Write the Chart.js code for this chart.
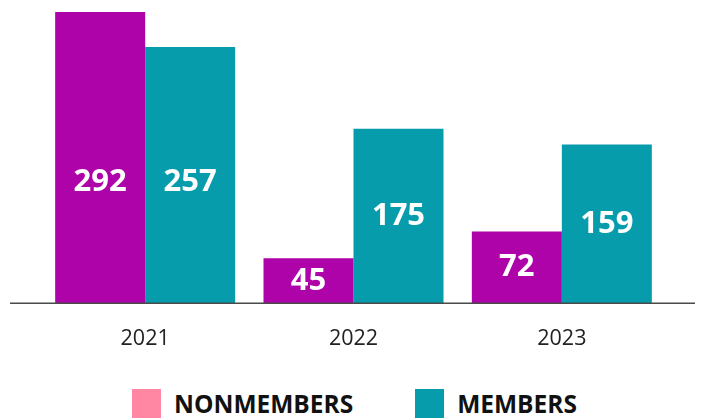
<!DOCTYPE html>
<html>
<head>
<meta charset="utf-8">
<script src="https://cdn.jsdelivr.net/npm/chart.js@4/dist/chart.umd.min.js"></script>
<style>
    body { margin: 0; background: #fff; font-family: "Open Sans", sans-serif; }
    #wrap { position: relative; width: 701px; height: 389px; }
    #legend { display: flex; justify-content: center; align-items: center; height: 29px; padding-left: 8px; }
    .item { display: flex; align-items: center; font-weight: 700; font-size: 24.5px; color: #111; }
    .item + .item { margin-left: 62px; }
    .box { width: 29px; height: 29px; margin-right: 13px; }
</style>
</head>
<body>
<div id="wrap"><canvas id="chart"></canvas></div>
<div id="legend"></div>
<script>
const years = ["2021", "2022", "2023"];
const nonmembers = [292, 45, 72];
const members = [257, 175, 159];
const seriesNames = ["NONMEMBERS", "MEMBERS"];
const barColors = ["#ad03a9", "#069cab"];
const legendColors = ["#ff87a3", "#069cab"];

// white value labels inside the bars
const valueLabels = {
    id: "valueLabels",
    afterDatasetsDraw(chart) {
        const { ctx, chartArea } = chart;
        ctx.save();
        ctx.fillStyle = "#fff";
        ctx.font = "700 31px 'Open Sans'";
        ctx.textAlign = "center";
        ctx.textBaseline = "middle";
        chart.data.datasets.forEach((ds, i) => {
            chart.getDatasetMeta(i).data.forEach((bar, j) => {
                const mid = (bar.y + bar.base) / 2;
                const y = Math.max(mid, chartArea.top + chartArea.height * 0.6);
                ctx.fillText(ds.data[j], bar.x, y);
            });
        });
        ctx.restore();
    },
};

// baseline running past the plot area
const baseline = {
    id: "baseline",
    afterDatasetsDraw(chart) {
        const { ctx, width } = chart;
        const y = chart.scales.y.getPixelForValue(0);
        ctx.save();
        ctx.strokeStyle = "#4a4a4a";
        ctx.lineWidth = 1.5;
        ctx.beginPath();
        ctx.moveTo(10, y);
        ctx.lineTo(width - 6, y);
        ctx.stroke();
        ctx.restore();
    },
};

new Chart(document.querySelector("#chart"), {
    type: "bar",
    data: {
        labels: years,
        datasets: [
            { label: seriesNames[0], data: nonmembers, backgroundColor: barColors[0] },
            { label: seriesNames[1], data: members, backgroundColor: barColors[1] },
        ],
    },
    options: {
        responsive: true,
        maintainAspectRatio: false,
        animation: false,
        layout: { padding: { left: 41, right: 35, top: 0, bottom: 14 } },
        datasets: { bar: { barPercentage: 1, categoryPercentage: 0.864 } },
        scales: {
            x: {
                grid: { display: false, drawTicks: false },
                border: { display: false },
                ticks: { color: "#222", padding: 23, font: { family: "Open Sans", size: 21.5 } },
            },
            y: {
                display: false,
                min: 0,
                max: 304,
            },
        },
        plugins: {
            legend: { display: false },
            tooltip: { enabled: false },
        },
    },
    plugins: [valueLabels, baseline],
});

const legend = document.querySelector("#legend");
seriesNames.forEach((name, i) => {
    const item = document.createElement("div");
    item.className = "item";
    item.innerHTML = '<span class="box" style="background:' + legendColors[i] + '"></span>' + name;
    legend.appendChild(item);
});
</script>
</body>
</html>
